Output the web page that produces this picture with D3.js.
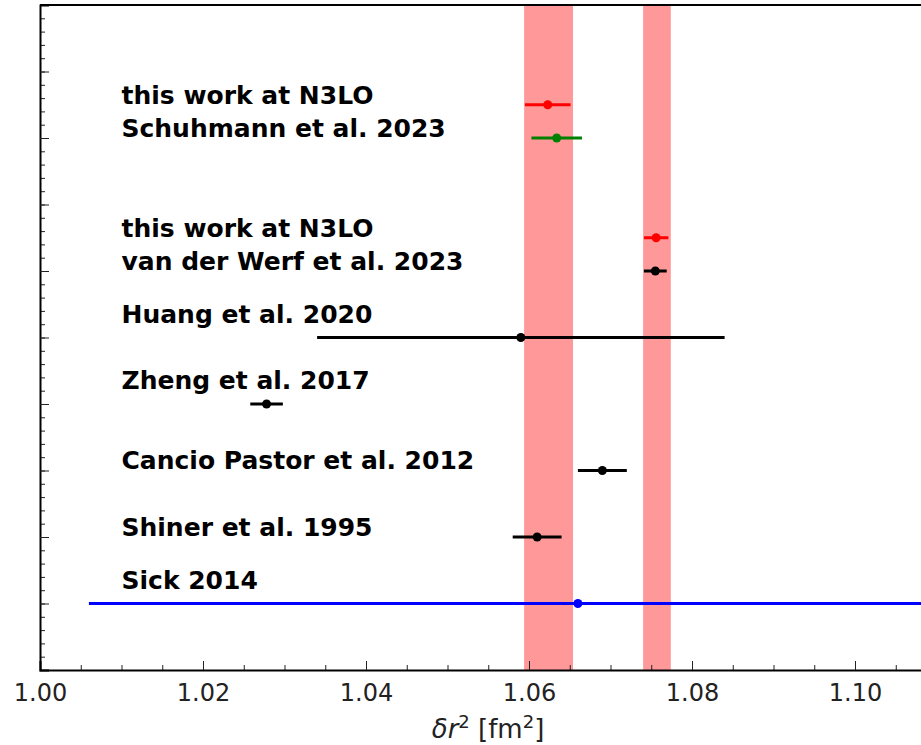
<!DOCTYPE html>
<html>
<head>
<meta charset="utf-8">
<script src="https://cdn.jsdelivr.net/npm/d3@7"></script>
<style>
	body { margin: 0; background: #fff; }
	svg { display: block; font-family: "DejaVu Sans", sans-serif; }
</style>
</head>
<body>
<div id="chart"></div>
<script>
// measurements (value, error, row position)
var labels = ["this work at N3LO", "Schuhmann et al. 2023", "this work at N3LO", "van der Werf et al. 2023",
	"Huang et al. 2020", "Zheng et al. 2017", "Cancio Pastor et al. 2012", "Shiner et al. 1995", "Sick 2014"];
var labelRows = [8.65, 8.15, 6.65, 6.15, 5.35, 4.35, 3.15, 2.15, 1.35];
var values = [1.0623, 1.0634, 1.0756, 1.0755, 1.059, 1.0278, 1.069, 1.061, 1.066];
var errors = [0.0028, 0.0031, 0.0015, 0.0014, 0.025, 0.002, 0.003, 0.003, 0.06];
var rows = [8.5, 8, 6.5, 6, 5, 4, 3, 2, 1];
var colors = ["#ff0000", "#008000", "#ff0000", "#000000", "#000000", "#000000", "#000000", "#000000", "#0000ff"];
// shaded bands [lo, hi]
var bands = [[1.0594, 1.0654], [1.0740, 1.0774]];
var xTicks = [1.00, 1.02, 1.04, 1.06, 1.08, 1.10];

var width = 921, height = 745;
var margin = {top: 5, left: 40, bottom: 75};
var innerH = height - margin.top - margin.bottom;

// x range spills past the right edge like the cropped original
var x = d3.scaleLinear().domain([1.0, 1.12]).range([margin.left, margin.left + 0.12 / 0.02 * 163]);
var y = d3.scaleLinear().domain([0, 10]).range([margin.top + innerH, margin.top]);

var svg = d3.select("#chart").append("svg")
	.attr("width", width)
	.attr("height", height);

// bands
svg.selectAll("rect.band")
	.data(bands)
	.enter().append("rect")
	.attr("class", "band")
	.attr("x", function(d) { return x(d[0]); })
	.attr("width", function(d) { return x(d[1]) - x(d[0]); })
	.attr("y", y(10))
	.attr("height", y(0) - y(10))
	.attr("fill", "#ff0000")
	.attr("fill-opacity", 0.4);

// labels
svg.selectAll("text.lbl")
	.data(labels)
	.enter().append("text")
	.attr("class", "lbl")
	.attr("x", x(1.01))
	.attr("y", function(d, i) { return y(labelRows[i]); })
	.attr("dy", "0.35em")
	.attr("font-size", "25px")
	.attr("font-weight", "bold")
	.attr("fill", "#000")
	.text(function(d) { return d; });

// error bars
var pts = svg.selectAll("g.pt")
	.data(values)
	.enter().append("g")
	.attr("class", "pt");

pts.append("line")
	.attr("x1", function(d, i) { return x(d - errors[i]); })
	.attr("x2", function(d, i) { return x(d + errors[i]); })
	.attr("y1", function(d, i) { return y(rows[i]); })
	.attr("y2", function(d, i) { return y(rows[i]); })
	.attr("stroke", function(d, i) { return colors[i]; })
	.attr("stroke-width", 3);

pts.append("circle")
	.attr("cx", function(d) { return x(d); })
	.attr("cy", function(d, i) { return y(rows[i]); })
	.attr("r", 4.5)
	.attr("fill", function(d, i) { return colors[i]; });

// x axis, ticks pointing inward
var xMinor = d3.range(1.0, 1.12, 0.005);
svg.append("g")
	.attr("transform", "translate(0," + y(0) + ")")
	.call(d3.axisBottom(x).tickValues(xMinor).tickSize(-5).tickFormat(""))
	.call(function(g) { g.select(".domain").remove(); });

svg.append("g")
	.attr("class", "xaxis")
	.attr("transform", "translate(0," + y(0) + ")")
	.call(d3.axisBottom(x).tickValues(xTicks).tickSize(-9).tickPadding(14).tickFormat(d3.format(".2f")))
	.call(function(g) { g.select(".domain").attr("stroke-width", 2); })
	.selectAll("text")
	.attr("font-size", "24px")
	.attr("fill", "#222")
	.attr("font-family", "DejaVu Sans");

// y axis, no labels
svg.append("g")
	.attr("transform", "translate(" + x(1.0) + ",0)")
	.call(d3.axisLeft(y).tickValues(d3.range(0, 10, 0.2)).tickSize(-5).tickFormat(""))
	.call(function(g) { g.select(".domain").remove(); });

svg.append("g")
	.attr("transform", "translate(" + x(1.0) + ",0)")
	.call(d3.axisLeft(y).tickValues(d3.range(1, 10, 1)).tickSize(-9).tickFormat(""))
	.call(function(g) { g.select(".domain").attr("stroke-width", 2); });

// top spine
svg.append("line")
	.attr("x1", x(1.0))
	.attr("x2", width)
	.attr("y1", y(10))
	.attr("y2", y(10))
	.attr("stroke", "#000")
	.attr("stroke-width", 2);

svg.selectAll(".tick line").attr("stroke", "#222");

// axis title
var title = svg.append("text")
	.attr("x", 488)
	.attr("y", 738)
	.attr("text-anchor", "middle")
	.attr("font-size", "26px")
	.attr("fill", "#222");
title.append("tspan").attr("font-style", "italic").text("δr");
title.append("tspan").attr("font-size", "18px").attr("dy", "-10").text("2");
title.append("tspan").attr("dy", "10").text(" [fm");
title.append("tspan").attr("font-size", "18px").attr("dy", "-10").text("2");
title.append("tspan").attr("dy", "10").text("]");
</script>
</body>
</html>
